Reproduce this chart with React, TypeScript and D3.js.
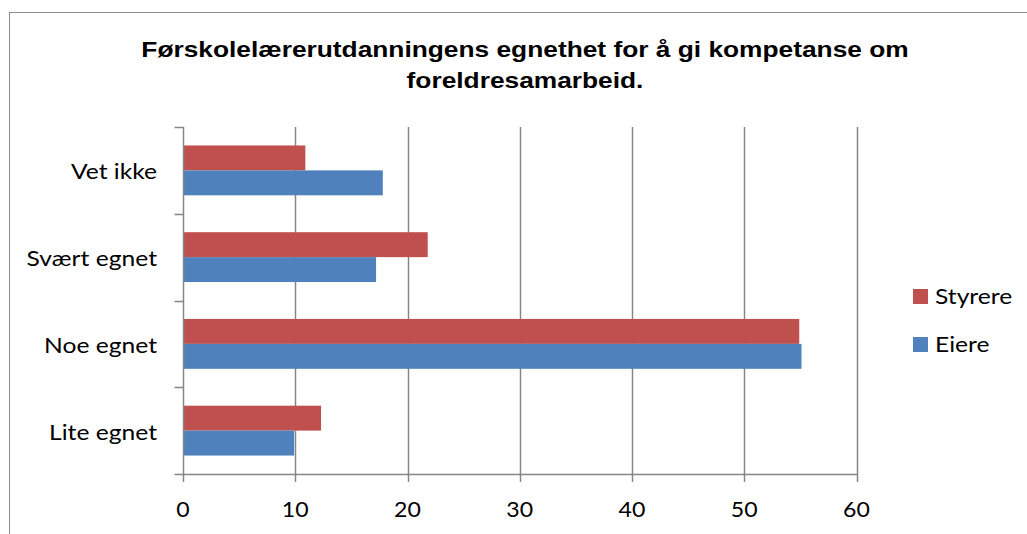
import { useEffect, useRef } from 'react'
import * as d3 from 'd3'

const categories = ['Vet ikke', 'Svært egnet', 'Noe egnet', 'Lite egnet']
const seriesNames = ['Styrere', 'Eiere']
const styrere = [10.9, 21.8, 54.9, 12.3]
const eiere = [17.8, 17.2, 55.1, 9.9]
const xTicks = [0, 10, 20, 30, 40, 50, 60]
const titleLines = ['Førskolelærerutdanningens egnethet for å gi kompetanse om', 'foreldresamarbeid.']

const COLORS = ['#C0504D', '#4F81BD']
const GRID = '#868686'
const LABEL_FONT = 'Lato, "Open Sans", sans-serif'

export default function App() {
  const svgRef = useRef<SVGSVGElement>(null)

  useEffect(() => {
    if (!svgRef.current) return
    const svg = d3.select(svgRef.current)
    svg.selectAll('*').remove()

    const W = 1027, H = 534
    const m = { left: 183, right: 170.5, top: 127, bottom: 60 }
    svg.attr('width', W).attr('height', H)

    // the picture is stretched a little sideways, so text gets a scaleX
    const label = (px: number, py: number, txt: string | number, size: number, anchor: string, sx: number) =>
      svg.append('g').attr('transform', `translate(${px},${py}) scale(${sx},1)`)
        .append('text').attr('text-anchor', anchor)
        .attr('font-family', LABEL_FONT).attr('font-size', size).attr('fill', '#000')
        .text(txt)

    // outer chart frame
    svg.append('rect').attr('x', 9.5).attr('y', 12.5)
      .attr('width', W).attr('height', H)
      .attr('fill', 'white').attr('stroke', '#8c8c8c').attr('stroke-width', 1)

    // title
    titleLines.forEach((t, i) => {
      svg.append('g').attr('transform', `translate(525,${57 + i * 31}) scale(1.17,1)`)
        .append('text')
        .attr('text-anchor', 'middle')
        .attr('font-family', '"Liberation Sans", Arial, sans-serif')
        .attr('font-weight', 'bold').attr('font-size', 22.5)
        .attr('fill', '#000').text(t)
    })

    const x = d3.scaleLinear().domain([0, 60]).range([m.left, W - m.right])
    const y = d3.scaleBand().domain(categories).range([m.top, H - m.bottom])
      .paddingInner(37 / 87).paddingOuter(18.5 / 87)
    const y0 = d3.scaleBand().domain(categories).range([m.top, H - m.bottom])
    const sub = d3.scaleBand().domain(seriesNames).range([0, y.bandwidth()])

    // vertical gridlines
    xTicks.slice(1).forEach(v => {
      svg.append('line').attr('x1', Math.round(x(v)) + 0.5).attr('x2', Math.round(x(v)) + 0.5)
        .attr('y1', m.top).attr('y2', H - m.bottom + 8)
        .attr('stroke', GRID).attr('stroke-width', 1.5)
    })

    // bars
    const series = [styrere, eiere]
    series.forEach((vals, si) => {
      categories.forEach((c, ci) => {
        svg.append('rect')
          .attr('x', x(0)).attr('y', (y(c) as number) + (sub(seriesNames[si]) as number))
          .attr('width', x(vals[ci]) - x(0)).attr('height', sub.bandwidth())
          .attr('fill', COLORS[si])
      })
    })

    // y axis line + ticks
    const ax = Math.round(x(0)) + 0.5
    svg.append('line').attr('x1', ax).attr('x2', ax)
      .attr('y1', m.top).attr('y2', H - m.bottom + 8)
      .attr('stroke', GRID).attr('stroke-width', 1.5)
    const bounds = categories.map(c => y0(c) as number).concat([H - m.bottom])
    bounds.forEach(b => {
      svg.append('line').attr('x1', ax - 9).attr('x2', ax)
        .attr('y1', Math.round(b) + 0.5).attr('y2', Math.round(b) + 0.5)
        .attr('stroke', GRID).attr('stroke-width', 1.5)
    })

    // x axis line
    svg.append('line').attr('x1', ax).attr('x2', Math.round(x(60)) + 0.5)
      .attr('y1', H - m.bottom + 0.5).attr('y2', H - m.bottom + 0.5)
      .attr('stroke', GRID).attr('stroke-width', 1.5)

    // x tick labels
    xTicks.forEach(v => label(x(v), 517, v, 21, 'middle', 1.1))

    // category labels
    categories.forEach(c => label(157, (y0(c) as number) + y0.bandwidth() / 2 + 9, c, 22, 'end', 1.12))

    // legend
    seriesNames.forEach((s, i) => {
      const ly = 289 + i * 48
      svg.append('rect').attr('x', 913).attr('y', ly).attr('width', 15).attr('height', 15)
        .attr('fill', COLORS[i])
      label(935, ly + 15, s, 22, 'start', 1.12)
    })
  }, [])

  return (
    <div style={{ position: 'absolute', left: 0, top: 0 }}>
      <svg ref={svgRef} style={{ display: 'block' }} />
    </div>
  )
}
